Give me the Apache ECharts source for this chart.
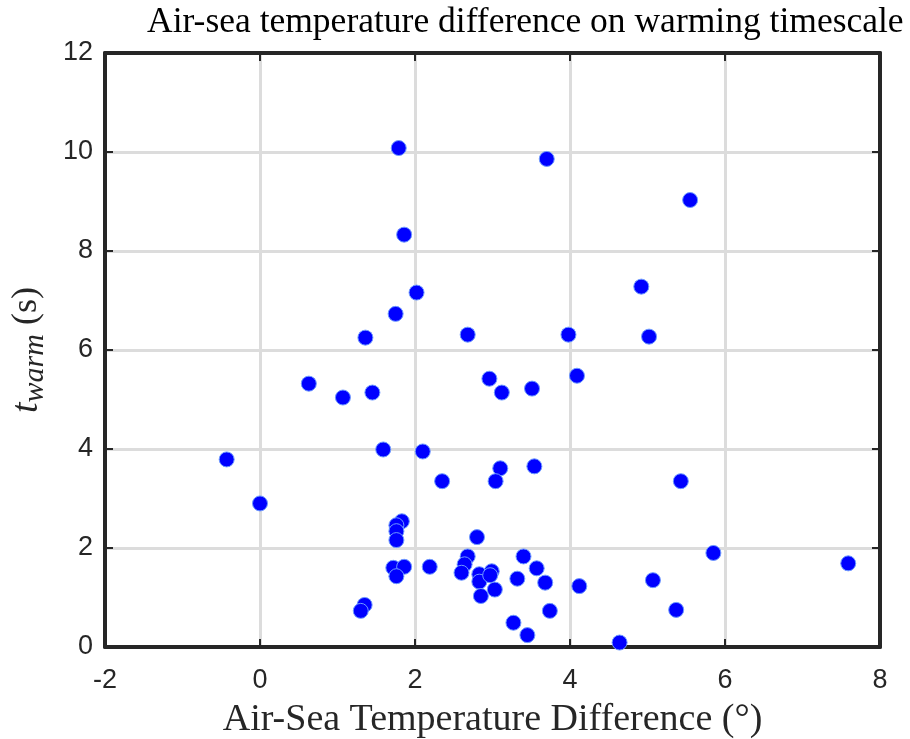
<!DOCTYPE html>
<html>
<head>
<meta charset="utf-8">
<script src="https://cdn.jsdelivr.net/npm/echarts@6/dist/echarts.min.js"></script>
<style>
  html, body { margin: 0; padding: 0; background: #fff; }
  #chart { width: 910px; height: 739px; }
</style>
</head>
<body>
<div id="chart"></div>
<script>
// air-sea temperature difference (deg) vs warming timescale (s)
const airSeaDiff = [
  -0.43, 0.0, 0.63, 1.07, 1.45, 1.36, 1.75, 1.79, 1.86, 2.02,
  1.59, 2.10, 2.35, 1.83, 1.76, 1.76, 1.76, 1.72, 1.86, 1.76,
  1.35, 1.30, 2.19, 2.68, 2.96, 3.12, 3.51, 3.10, 3.04, 3.54,
  2.80, 2.68, 2.64, 2.60, 2.83, 2.83, 2.99, 2.97, 3.03, 2.85,
  3.40, 3.32, 3.57, 3.68, 3.74, 3.27, 3.45, 4.12, 4.64, 4.09,
  3.98, 3.70, 4.92, 5.02, 5.55, 5.43, 5.85, 7.59, 5.07, 5.37
];
const tWarm = [
  3.79, 2.90, 5.32, 5.04, 5.14, 6.25, 6.73, 10.08, 8.33, 7.16,
  3.99, 3.95, 3.35, 2.54, 2.46, 2.34, 2.16, 1.60, 1.62, 1.43,
  0.85, 0.73, 1.62, 6.31, 5.42, 5.14, 5.22, 3.61, 3.35, 3.65,
  2.22, 1.83, 1.67, 1.50, 1.47, 1.32, 1.53, 1.45, 1.16, 1.03,
  1.83, 1.38, 1.59, 1.30, 0.73, 0.49, 0.24, 1.23, 0.09, 5.48,
  6.31, 9.86, 7.28, 6.27, 9.03, 3.35, 1.90, 1.69, 1.35, 0.75
];
const xTicks = [-2, 8, 2];   // min, max, step
const yTicks = [0, 12, 2];

const points = airSeaDiff.map((v, i) => [v, tWarm[i]]);

const myChart = echarts.init(document.getElementById('chart'));
const axisColor = '#262626';
const serif = 'Liberation Serif, serif';
const tickFont = { color: axisColor, fontSize: 27, fontFamily: 'Liberation Sans, Arial, sans-serif' };
const frameLine = { onZero: false, lineStyle: { color: axisColor, width: 4 } };
const ticks = { inside: true, length: 8, lineStyle: { color: axisColor, width: 2 } };
const gridLines = { lineStyle: { color: '#dcdcdc', width: 3 } };

let option = {
  animation: false,
  backgroundColor: '#fff',
  title: {
    text: 'Air-sea temperature difference on warming timescale',
    left: 142,
    top: 0,
    textStyle: { fontFamily: serif, fontWeight: 'normal', fontSize: 35.5, color: '#000' }
  },
  grid: { left: 105, right: 30, top: 53, bottom: 92, outerBoundsMode: 'none', containLabel: false },
  xAxis: [
    {
      type: 'value', min: xTicks[0], max: xTicks[1], interval: xTicks[2],
      name: 'Air-Sea Temperature Difference (°)',
      nameLocation: 'middle', nameGap: 54,
      nameTextStyle: { fontFamily: serif, fontSize: 38, color: '#262626' },
      axisLine: frameLine,
      axisTick: ticks,
      axisLabel: Object.assign({ margin: 20 }, tickFont),
      splitLine: gridLines
    },
    {
      type: 'value', position: 'top', min: xTicks[0], max: xTicks[1], interval: xTicks[2],
      axisLine: frameLine, axisTick: ticks,
      axisLabel: { show: false }, splitLine: { show: false }
    }
  ],
  yAxis: [
    {
      type: 'value', min: yTicks[0], max: yTicks[1], interval: yTicks[2],
      name: '{t|t}{s|warm}{n| (s)}',
      nameLocation: 'middle', nameGap: 55, nameRotate: 90,
      nameTextStyle: {
        rich: {
          t: { fontFamily: serif, fontStyle: 'italic', fontSize: 38, color: '#262626' },
          s: { fontFamily: serif, fontStyle: 'italic', fontSize: 30, color: '#262626', padding: [16, 0, 0, 0] },
          n: { fontFamily: serif, fontSize: 36, color: '#262626' }
        }
      },
      axisLine: frameLine,
      axisTick: ticks,
      axisLabel: Object.assign({ margin: 12 }, tickFont),
      splitLine: gridLines
    },
    {
      type: 'value', position: 'right', min: yTicks[0], max: yTicks[1], interval: yTicks[2],
      axisLine: frameLine, axisTick: ticks,
      axisLabel: { show: false }, splitLine: { show: false }
    }
  ],
  series: [
    {
      type: 'scatter',
      data: points,
      symbolSize: 15,
      itemStyle: { color: '#0000ff', opacity: 1, borderColor: '#6f9bff', borderWidth: 1 }
    }
  ]
};
myChart.setOption(option);
</script>
</body>
</html>
